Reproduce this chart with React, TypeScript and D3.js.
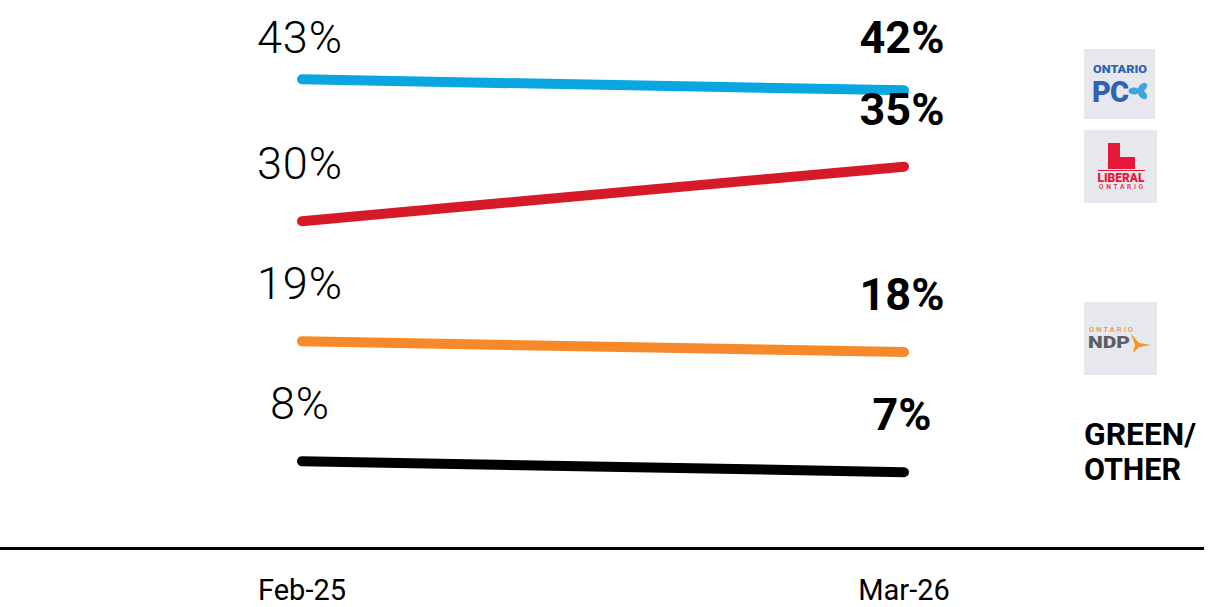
import React from "react";
import * as d3 from "d3";

const periods = ["Feb-25", "Mar-26"];
const parties = ["PC", "Liberal", "NDP", "Green/Other"];
const febValues = [43, 30, 19, 8];
const marValues = [42, 35, 18, 7];
const colors = ["#0aa6e1", "#d71a28", "#f7892a", "#000000"];

const W = 1218;
const H = 607;

export default function App() {
  const x = d3.scalePoint<string>().domain(periods).range([302, 904]).padding(0);
  const y = d3.scaleLinear().domain([0, 50]).range([548.5, 3]);
  const line = d3
    .line<[string, number]>()
    .x((d) => x(d[0]) as number)
    .y((d) => y(d[1]));
  const labelY = (v: number) => Math.max(y(v) - 42, 53);
  const font = "Roboto, 'Noto Sans', sans-serif";

  return (
    <svg
      width={W}
      height={H}
      style={{ position: "absolute", left: 0, top: 0, display: "block", background: "#fff" }}
    >
      {parties.map((p, i) => (
        <path
          key={p}
          d={line([
            [periods[0], febValues[i]],
            [periods[1], marValues[i]],
          ]) as string}
          stroke={colors[i]}
          strokeWidth={10}
          strokeLinecap="round"
          fill="none"
        />
      ))}
      {parties.map((p, i) => (
        <g key={p + "lab"} fontFamily={font} fontSize={45}>
          <text x={(x(periods[0]) as number) - 2} y={labelY(febValues[i])} textAnchor="middle" fontWeight={300} letterSpacing={1}>
            {febValues[i]}%
          </text>
          <text x={(x(periods[1]) as number) - 2} y={labelY(marValues[i])} textAnchor="middle" fontWeight={700}>
            {marValues[i]}%
          </text>
        </g>
      ))}
      <line x1={0} x2={1204} y1={y(0)} y2={y(0)} stroke="#000" strokeWidth={3} />
      {periods.map((p) => (
        <text key={p} x={x(p) as number} y={600} textAnchor="middle" fontFamily={font} fontSize={29} fontWeight={400}>
          {p}
        </text>
      ))}

      {/* PC logo */}
      <g fontFamily={font}>
        <rect x={1084} y={49} width={71} height={70} fill="#e6e8ed" />
        <text x={1093} y={73} fontSize={10.5} fontWeight={900} fill="#2d62b5" textLength={54} lengthAdjust="spacingAndGlyphs">
          ONTARIO
        </text>
        <text x={1092} y={102} fontSize={29} fontWeight={900} fill="#2d62b5" letterSpacing={-1}>
          PC
        </text>
        <g fill="#3ea3de" transform="translate(1139,91)">
          <ellipse cx={0} cy={-5} rx={3.5} ry={5.5} transform="rotate(45)" />
          <ellipse cx={0} cy={-5} rx={3.5} ry={5.5} transform="rotate(135)" />
          <ellipse cx={0} cy={-5} rx={3.5} ry={5.5} transform="rotate(270)" />
        </g>

        {/* Liberal logo */}
        <rect x={1084} y={130} width={73} height={73} fill="#e6e8ed" />
        <path d="M1108,143 H1120 V157 H1135 V169 H1108 Z" fill="#e8183a" />
        <line x1={1098} x2={1145} y1={170.5} y2={170.5} stroke="#e8183a" strokeWidth={1} />
        <text x={1121} y={182} fontSize={12.5} fontWeight={900} fill="#e8183a" textAnchor="middle" textLength={47} lengthAdjust="spacingAndGlyphs">
          LIBERAL
        </text>
        <text x={1121} y={189} fontSize={6.5} fontWeight={500} fill="#e8183a" textAnchor="middle" textLength={44} lengthAdjust="spacing">
          ONTARIO
        </text>

        {/* NDP logo */}
        <rect x={1084} y={302} width={73} height={73} fill="#e6e8ed" />
        <text x={1089} y={332} fontSize={7.5} fontWeight={500} fill="#f7931e" textLength={44} lengthAdjust="spacing">
          ONTARIO
        </text>
        <text x={1088} y={348} fontSize={17} fontWeight={900} fill="#5b5f63" textLength={42} lengthAdjust="spacingAndGlyphs">
          NDP
        </text>
        <path d="M1131,334 L1139,343 L1151,345 L1139,347 L1133,353 L1135,345 Z" fill="#f7931e" />

        {/* Green/Other */}
        <text x={1084} y={445} fontSize={31} fontWeight={700} fill="#000" textLength={112} lengthAdjust="spacingAndGlyphs">GREEN/</text>
        <text x={1084} y={480} fontSize={31} fontWeight={700} fill="#000" textLength={97} lengthAdjust="spacingAndGlyphs">OTHER</text>
      </g>
    </svg>
  );
}
